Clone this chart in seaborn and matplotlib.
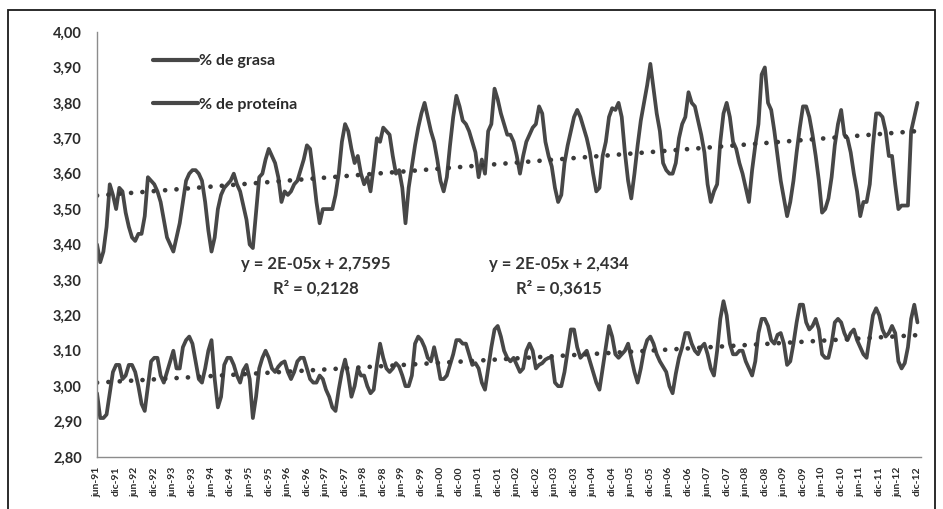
import numpy as np
import pandas as pd
import matplotlib
matplotlib.use("Agg")
import matplotlib.pyplot as plt
import seaborn as sns
from matplotlib.patches import Rectangle

# % de grasa, por año (1991 empieza en junio)
grasa_1991 = [3.40, 3.35, 3.38, 3.45, 3.57, 3.54, 3.50]
grasa_1992 = [3.56, 3.55, 3.49, 3.45, 3.42, 3.41, 3.43, 3.43, 3.48, 3.59, 3.58, 3.57]
grasa_1993 = [3.55, 3.52, 3.47, 3.42, 3.40, 3.38, 3.42, 3.46, 3.52, 3.58, 3.60, 3.61]
grasa_1994 = [3.61, 3.60, 3.58, 3.52, 3.44, 3.38, 3.42, 3.50, 3.54, 3.56, 3.57, 3.58]
grasa_1995 = [3.60, 3.57, 3.55, 3.51, 3.47, 3.40, 3.39, 3.49, 3.59, 3.60, 3.64, 3.67]
grasa_1996 = [3.65, 3.63, 3.59, 3.52, 3.55, 3.54, 3.55, 3.57, 3.58, 3.61, 3.64, 3.68]
grasa_1997 = [3.67, 3.60, 3.52, 3.46, 3.50, 3.50, 3.50, 3.50, 3.54, 3.60, 3.69, 3.74]
grasa_1998 = [3.72, 3.67, 3.63, 3.65, 3.60, 3.57, 3.59, 3.55, 3.62, 3.70, 3.69, 3.73]
grasa_1999 = [3.72, 3.71, 3.65, 3.60, 3.61, 3.56, 3.46, 3.56, 3.62, 3.68, 3.73, 3.77]
grasa_2000 = [3.80, 3.76, 3.72, 3.69, 3.64, 3.58, 3.55, 3.59, 3.68, 3.76, 3.82, 3.79]
grasa_2001 = [3.75, 3.74, 3.72, 3.69, 3.66, 3.59, 3.64, 3.60, 3.72, 3.74, 3.84, 3.81]
grasa_2002 = [3.77, 3.74, 3.71, 3.71, 3.69, 3.65, 3.60, 3.65, 3.69, 3.71, 3.73, 3.74]
grasa_2003 = [3.79, 3.77, 3.69, 3.65, 3.62, 3.56, 3.52, 3.54, 3.63, 3.68, 3.72, 3.76]
grasa_2004 = [3.78, 3.76, 3.73, 3.70, 3.66, 3.60, 3.55, 3.56, 3.65, 3.69, 3.76, 3.785]
grasa_2005 = [3.78, 3.80, 3.76, 3.66, 3.58, 3.53, 3.60, 3.68, 3.75, 3.80, 3.85, 3.91]
grasa_2006 = [3.84, 3.77, 3.72, 3.63, 3.61, 3.60, 3.60, 3.63, 3.70, 3.74, 3.76, 3.83]
grasa_2007 = [3.80, 3.79, 3.75, 3.71, 3.66, 3.57, 3.52, 3.55, 3.57, 3.69, 3.77, 3.80]
grasa_2008 = [3.76, 3.69, 3.67, 3.63, 3.60, 3.56, 3.52, 3.61, 3.68, 3.74, 3.88, 3.90]
grasa_2009 = [3.80, 3.78, 3.72, 3.65, 3.58, 3.53, 3.48, 3.52, 3.58, 3.66, 3.73, 3.79]
grasa_2010 = [3.79, 3.76, 3.71, 3.65, 3.58, 3.49, 3.50, 3.53, 3.59, 3.68, 3.74, 3.78]
grasa_2011 = [3.71, 3.70, 3.66, 3.60, 3.55, 3.48, 3.52, 3.52, 3.57, 3.68, 3.77, 3.77]
grasa_2012 = [3.76, 3.72, 3.65, 3.65, 3.57, 3.50, 3.51, 3.51, 3.51, 3.72, 3.76, 3.80]

# % de proteína, por año
prot_1991 = [2.98, 2.91, 2.91, 2.92, 2.98, 3.04, 3.06]
prot_1992 = [3.06, 3.02, 3.03, 3.06, 3.06, 3.04, 3.00, 2.95, 2.93, 3.00, 3.07, 3.08]
prot_1993 = [3.08, 3.03, 3.01, 3.04, 3.07, 3.10, 3.05, 3.05, 3.11, 3.13, 3.14, 3.12]
prot_1994 = [3.07, 3.02, 3.01, 3.05, 3.10, 3.13, 3.02, 2.94, 2.97, 3.06, 3.08, 3.08]
prot_1995 = [3.06, 3.03, 3.01, 3.045, 3.06, 3.02, 2.91, 2.97, 3.05, 3.08, 3.10, 3.08]
prot_1996 = [3.05, 3.04, 3.055, 3.065, 3.07, 3.04, 3.02, 3.04, 3.07, 3.08, 3.08, 3.05]
prot_1997 = [3.02, 3.01, 3.01, 3.03, 3.02, 2.99, 2.97, 2.94, 2.93, 2.99, 3.04, 3.075]
prot_1998 = [3.03, 2.97, 3.00, 3.05, 3.03, 3.03, 3.00, 2.98, 2.99, 3.06, 3.12, 3.08]
prot_1999 = [3.05, 3.04, 3.05, 3.065, 3.055, 3.03, 3.00, 3.00, 3.03, 3.12, 3.14, 3.13]
prot_2000 = [3.11, 3.08, 3.07, 3.11, 3.07, 3.02, 3.02, 3.03, 3.06, 3.09, 3.13, 3.13]
prot_2001 = [3.12, 3.12, 3.09, 3.06, 3.065, 3.05, 3.01, 2.99, 3.05, 3.11, 3.16, 3.17]
prot_2002 = [3.14, 3.10, 3.08, 3.07, 3.08, 3.06, 3.04, 3.05, 3.10, 3.12, 3.10, 3.05]
prot_2003 = [3.06, 3.065, 3.075, 3.08, 3.08, 3.01, 3.00, 3.00, 3.04, 3.10, 3.16, 3.16]
prot_2004 = [3.11, 3.08, 3.09, 3.10, 3.07, 3.04, 3.01, 2.99, 3.05, 3.11, 3.17, 3.14]
prot_2005 = [3.09, 3.08, 3.09, 3.10, 3.12, 3.08, 3.04, 3.01, 3.05, 3.10, 3.13, 3.14]
prot_2006 = [3.12, 3.09, 3.07, 3.055, 3.04, 3.00, 2.98, 3.035, 3.08, 3.11, 3.15, 3.15]
prot_2007 = [3.12, 3.10, 3.09, 3.11, 3.12, 3.09, 3.05, 3.03, 3.10, 3.19, 3.24, 3.20]
prot_2008 = [3.12, 3.09, 3.09, 3.10, 3.10, 3.07, 3.05, 3.03, 3.07, 3.15, 3.19, 3.19]
prot_2009 = [3.17, 3.13, 3.12, 3.145, 3.15, 3.12, 3.06, 3.07, 3.12, 3.18, 3.23, 3.23]
prot_2010 = [3.18, 3.16, 3.17, 3.19, 3.16, 3.09, 3.08, 3.08, 3.12, 3.18, 3.19, 3.18]
prot_2011 = [3.15, 3.13, 3.15, 3.16, 3.13, 3.11, 3.09, 3.08, 3.14, 3.20, 3.22, 3.20]
prot_2012 = [3.16, 3.14, 3.15, 3.17, 3.15, 3.07, 3.05, 3.065, 3.11, 3.19, 3.23, 3.18]

years = list(range(1991, 2013))
tick_months = ["jun", "dic"]

grasa = sum([globals()[f"grasa_{y}"] for y in years], [])
proteina = sum([globals()[f"prot_{y}"] for y in years], [])
mes = np.arange(len(grasa))

eq_grasa = "y = 2E-05x + 2,434\nR² = 0,3615"
eq_prot = "y = 2E-05x + 2,7595\nR² = 0,2128"

LINE = "#474747"
DOTS = "#3a3a3a"

sns.set_style("white")
plt.rcParams["font.family"] = ["Lato", "DejaVu Sans"]

df = pd.DataFrame({
    "mes": np.concatenate([mes, mes]),
    "valor": grasa + proteina,
    "serie": ["% de grasa"] * len(mes) + ["% de proteína"] * len(mes),
})

fig = plt.figure(figsize=(9.43, 5.09), dpi=100)
ax = fig.add_axes([0.1029, 0.1022, 0.8734, 0.8349])

sns.lineplot(data=df, x="mes", y="valor", hue="serie", palette=[LINE, LINE],
             linewidth=2.7, ax=ax, legend=False)

# lineas de tendencia (ajuste lineal)
for serie in [grasa, proteina]:
    coef = np.polyfit(mes, serie, 1)
    ax.plot(mes, np.polyval(coef, mes), color=DOTS, linewidth=3.4,
            linestyle=(0, (0.01, 2.4)), dash_capstyle="round")

ax.set_xlim(0, 259)
ax.set_ylim(2.80, 4.00)
yt = np.round(np.arange(2.8, 4.001, 0.1), 2)
ax.set_yticks(yt)
ax.set_yticklabels([f"{v:.2f}".replace(".", ",") for v in yt])

xt = mes[::6]
xl = [f"{tick_months[(i // 6) % 2]}-{(1991 + (i + 5) // 12) % 100:02d}" for i in xt]
ax.set_xticks(xt)
ax.set_xticklabels(xl, rotation=90)

ax.set_xlabel("")
ax.set_ylabel("")
sns.despine(ax=ax)
for s in ["left", "bottom"]:
    ax.spines[s].set_color("#8c8c8c")
    ax.spines[s].set_linewidth(1.0)
ax.tick_params(axis="y", length=5, width=1, color="#8c8c8c", pad=6,
               labelsize=10.5, labelcolor="#2b2b2b")
ax.tick_params(axis="x", length=5, width=1, color="#8c8c8c", pad=2,
               labelsize=7.5, labelcolor="#2b2b2b")
for lab in ax.get_yticklabels() + ax.get_xticklabels():
    lab.set_fontweight("bold")

# leyenda
handles = [plt.Line2D([], [], color=LINE, linewidth=3.0),
           plt.Line2D([], [], color=LINE, linewidth=3.0)]
leg = ax.legend(handles, ["% de grasa", "% de proteína"], loc="upper left",
                bbox_to_anchor=(0.068, 0.948), frameon=False, borderpad=0,
                borderaxespad=0, handlelength=2.8, handletextpad=0.1,
                labelspacing=1.85, prop={"size": 11.5, "weight": "bold"})
for t in leg.get_texts():
    t.set_color("#2b2b2b")

# ecuaciones de las tendencias
ax.text(0.266, 0.425, eq_prot, transform=ax.transAxes, ha="center", va="center",
        fontsize=12, fontweight="bold", color="#333333", linespacing=1.55)
ax.text(0.561, 0.425, eq_grasa, transform=ax.transAxes, ha="center", va="center",
        fontsize=12, fontweight="bold", color="#333333", linespacing=1.55)

# marco exterior
fig.patches.append(Rectangle((8 / 943, -0.02), 927 / 943, 0.9999 - 10 / 509 + 0.02,
                             transform=fig.transFigure, fill=False,
                             edgecolor="#1a1a1a", linewidth=1.3))

fig.savefig("out.png", dpi=100, facecolor="white")
